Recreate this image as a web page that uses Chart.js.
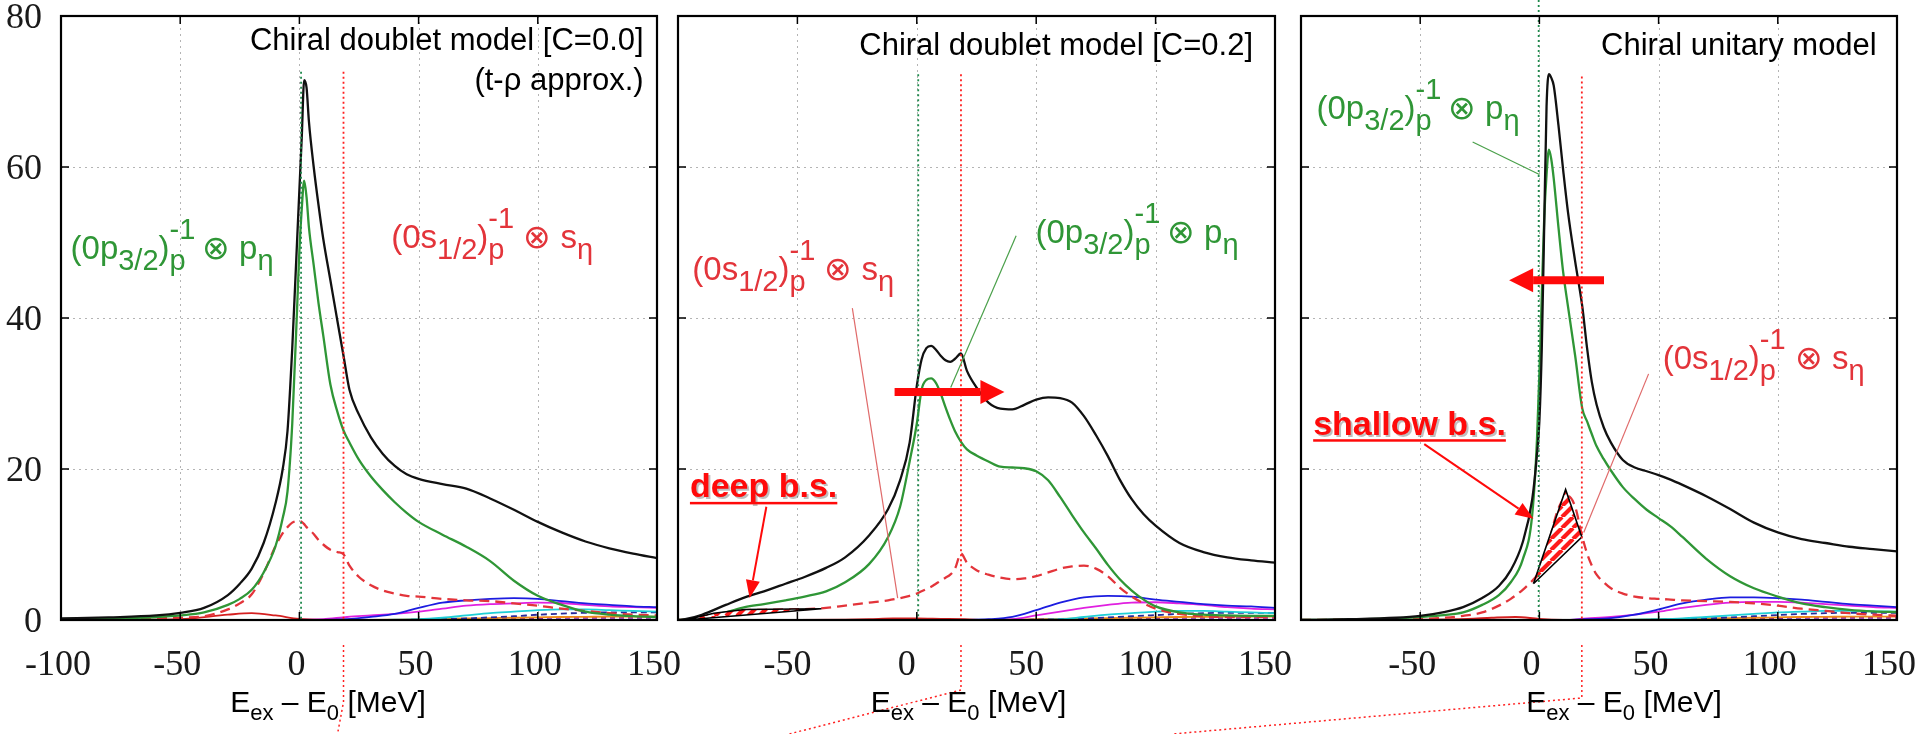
<!DOCTYPE html>
<html><head><meta charset="utf-8">
<script src="https://cdn.jsdelivr.net/npm/chart.js@4.4.1/dist/chart.umd.min.js"></script>
<style>
html,body{margin:0;padding:0;background:#fff;overflow:hidden}
#wrap{position:relative;width:1915px;height:734px;background:#fff}
canvas{position:absolute;left:0;top:0}
</style></head>
<body><div id="wrap">
<canvas id="c1" width="1915" height="734"></canvas>
<canvas id="c2" width="1915" height="734"></canvas>
<canvas id="c3" width="1915" height="734"></canvas>
</div>
<script>
// ---------------- DATA ----------------
const xTicks = [-100, -50, 0, 50, 100, 150];
const yTicks = [0, 20, 40, 60, 80];
const panelTitles = ['Chiral doublet model [C=0.0]', 'Chiral doublet model [C=0.2]', 'Chiral unitary model'];
const thrGreen = [0.7, 0.6, -0.3];
const thrRed = [18.5, 18.5, 17.8];

const p1X = [-100,-80,-60,-50,-40,-30,-25,-20,-15,-10,-7,-5,-3,-1,0,1,2,3,4,6,8,10,13,16,18.5,21,25,30,35,40,45,50,60,70,80,90,100,110,120,130,140,150];
const p1Total = [0.2,0.35,0.6,0.95,1.6,3.3,4.8,6.8,10.2,15.5,20,25,36,50,57,64,71.5,70.5,66,60,55,50.5,45,39.5,35,30.5,27.2,24.2,22,20.4,19.3,18.7,18,17.4,16.1,14.6,13,11.6,10.4,9.5,8.8,8.2];
const p1P32 = [0.1,0.2,0.4,0.6,1.0,2.0,2.8,4.0,6.3,9.8,13.5,17,26,41,49,54.5,58.2,56,52,47,42,37.7,31.2,27.5,25.1,23.5,21.2,19,17.2,15.6,14.2,13,11.3,9.7,7.8,5.2,3.2,2.0,1.1,0.7,0.5,0.4];
const p1S12 = [0.05,0.1,0.2,0.3,0.5,1.4,2.2,3.4,6.2,9.8,11.5,12.3,12.9,13.1,13.1,13,12.7,12.3,12,11.4,10.6,10,9.3,9,8.7,7.2,5.7,4.6,3.9,3.5,3.2,3.1,2.8,2.6,2.5,2.2,1.9,1.5,1.2,0.9,0.7,0.6];

const p2X = [-100,-97,-90,-80,-72,-64,-55,-47,-38,-30,-20,-12,-7,-3,0,2,4,6,8,10,12,14,16,18.5,21,25,30,35,40,45,50,55,60,65,70,75,80,85,90,95,100,110,120,130,140,150];
const p2Total = [0,0.1,0.7,2.0,3.0,3.8,4.8,5.7,6.9,8.3,11.2,14.7,18.5,23.5,31,34.5,36,36.3,35.8,35,34.4,34.2,34.6,35.3,33,30.8,28.8,28,27.9,28.5,29.2,29.5,29.4,28.8,27,24.5,21.7,18.6,16,14,12.5,10.2,9,8.3,7.9,7.6];
const p2P32 = [0,0.05,0.4,1.0,1.7,2.1,2.6,3.1,3.8,5.0,7.4,11,15,21,26,30.5,31.8,32,31.4,30,28.2,26.5,25,23.6,22.6,21.8,21,20.3,20.2,20.1,19.7,18.5,16.3,13.9,11.6,9.5,7.3,5.4,3.9,2.7,1.8,1.0,0.7,0.6,0.55,0.55];
const p2S12 = [0,0,0.4,1.0,1.3,1.35,1.4,1.45,1.6,1.9,2.3,2.6,2.9,3.2,3.5,3.8,4.1,4.4,4.8,5.2,5.6,6.0,6.8,8.8,7.6,6.6,6.0,5.6,5.4,5.5,5.8,6.3,6.8,7.1,7.2,6.8,5.8,4.3,3.1,2.2,1.5,0.8,0.5,0.4,0.4,0.4];

const p3X = [-100,-80,-60,-50,-40,-32,-24,-17,-12,-7,-3,-1,0,1,2,3,4,5,6,8,10,12,15,18,20,22,24,27,30,35,40,45,50,55,60,70,80,90,100,110,120,130,140,150];
const p3Total = [0,0.1,0.3,0.55,1.05,1.7,2.9,4.5,6.6,10.3,16,22,26.4,36,52,68,72.3,71.8,70.8,65.5,59.5,54,47.5,41.5,36,31.5,28.5,25.5,23.5,21.2,20.2,19.7,19.2,18.6,17.9,16.4,14.7,12.9,11.6,10.7,10.2,9.7,9.4,9.1];
const p3P32 = [0,0.05,0.2,0.4,0.65,1.0,2.0,3.3,5,8,14,24,32.6,43,53,59,62.3,61,58.5,52,46,41.5,35,28,26.3,24.6,23,21.3,19.8,17.6,16,14.6,13.5,12.4,11,8.1,5.8,4.2,3.1,2.2,1.7,1.35,1.15,1.05];
const p3S12 = [0,0.05,0.1,0.15,0.3,0.55,1.0,1.9,2.8,4.0,5.2,5.9,6.3,7,8,9,10.2,11.5,12.8,14.8,16,16.4,15,11,8.8,7.2,6.0,5.0,4.2,3.5,3.1,2.9,2.8,2.7,2.6,2.5,2.4,2.2,1.9,1.5,1.2,0.9,0.7,0.56];

const tailX = [-100,-50,-30,-20,-10,0,10,20,30,40,50,60,70,80,90,100,110,120,130,140,150];
const p1Blue   = [0,0,0,0,0,0,0,0.1,0.4,0.8,1.6,2.3,2.6,2.8,2.9,2.8,2.5,2.2,2.0,1.8,1.7];
const p1Mag    = [0,0,0,0,0,0,0.1,0.4,0.6,0.8,1.1,1.5,1.9,2.1,2.2,2.3,2.25,2.0,1.8,1.7,1.6];
const p1Cyan   = [0,0,0,0,0,0,0,0,0,0.05,0.1,0.3,0.6,0.9,1.1,1.3,1.4,1.4,1.3,1.2,1.1];
const p1Navy   = [0,0,0,0,0,0,0,0,0,0,0.05,0.1,0.2,0.35,0.5,0.7,0.85,0.95,1.0,1.0,1.0];
const p1Orange = [0,0,0,0,0,0,0,0,0.02,0.05,0.1,0.15,0.2,0.25,0.3,0.35,0.4,0.42,0.45,0.45,0.45];
const p1Purple = [0,0,0,0,0,0,0,0,0,0,0.02,0.05,0.1,0.15,0.2,0.25,0.3,0.3,0.3,0.3,0.3];
const p1RedS   = [0,0.1,0.7,0.9,0.6,0.15,0.02,0,0,0,0,0,0,0,0,0,0,0,0,0,0];

const p2Blue   = [0,0,0,0,0,0,0,0.02,0.1,0.4,1.3,2.3,3.0,3.2,3.1,2.7,2.4,2.1,1.9,1.8,1.6];
const p2Mag    = [0,0,0,0,0,0,0,0,0.02,0.1,0.6,1.1,1.6,2.0,2.3,2.35,2.2,2.0,1.7,1.5,1.4];
const p2Cyan   = [0,0,0,0,0,0,0,0,0,0,0.02,0.1,0.4,0.7,0.9,1.1,1.2,1.2,1.1,1.0,0.9];
const p2Navy   = [0,0,0,0,0,0,0,0,0,0,0.05,0.1,0.2,0.35,0.5,0.65,0.8,0.9,0.95,0.95,0.95];
const p2Orange = [0,0,0,0,0,0,0,0,0.02,0.05,0.1,0.15,0.2,0.25,0.3,0.35,0.4,0.42,0.45,0.45,0.45];
const p2Purple = [0,0,0,0,0,0,0,0,0,0,0.02,0.05,0.1,0.15,0.2,0.25,0.3,0.3,0.3,0.3,0.3];
const p2RedS   = [0,0,0.05,0.1,0.2,0.2,0.15,0.1,0,0,0,0,0,0,0,0,0,0,0,0,0];

const p3Blue   = [0,0,0,0,0,0,0,0.1,0.25,0.7,1.4,2.2,2.7,3.0,3.0,2.9,2.7,2.4,2.1,1.9,1.7];
const p3Mag    = [0,0,0,0,0,0,0,0.2,0.4,0.7,1.1,1.6,2.0,2.3,2.4,2.4,2.3,2.1,1.9,1.7,1.6];
const p3Cyan   = [0,0,0,0,0,0,0,0,0,0.05,0.1,0.2,0.4,0.6,0.8,1.0,1.1,1.2,1.2,1.15,1.1];
const p3Navy   = [0,0,0,0,0,0,0,0,0,0,0.05,0.1,0.2,0.35,0.5,0.65,0.8,0.9,0.95,0.95,0.95];
const p3Orange = [0,0,0,0,0,0,0,0,0.02,0.05,0.1,0.15,0.2,0.25,0.3,0.35,0.4,0.42,0.45,0.45,0.45];
const p3Purple = [0,0,0,0,0,0,0,0,0,0,0.02,0.05,0.1,0.15,0.2,0.25,0.3,0.3,0.3,0.3,0.3];
const p3RedS   = [0,0.05,0.15,0.3,0.4,0.15,0.02,0,0,0,0,0,0,0,0,0,0,0,0,0,0];

// hatched bound-state regions (closed outlines)
const hatch2X = [-97,-85,-72,-40,-97];
const hatch2Y = [0,0.9,1.4,1.5,0];
const hatch3X = [-2.5,11,17.8,-2.5];
const hatch3Y = [4.8,17.3,11,4.8];

// ---------------- STYLE / HELPERS ----------------
const C_BLACK='#111', C_GREEN='#2f9636', C_RED='#e3343a', C_BLUE='#1c1ce0', C_MAG='#e020e0', C_CYAN='#1fcfd6',
      C_NAVY='#2a2a9a', C_ORANGE='#f08a1a', C_PURPLE='#8a1aa8', C_REDS='#d42020', C_ARROW='#ff0a0a';
const SANS='"Liberation Sans", Arial, sans-serif';
const TICKFONT='36px "Liberation Serif", "Times New Roman", Times, serif';

function pts(xs, ys){ return xs.map((x,i)=>({x:x, y:ys[i]})); }
function ln(xs, ys, color, w, dash){ return {data:pts(xs,ys), borderColor:color, borderWidth:w, borderDash:dash||[], pointRadius:0, fill:false, cubicInterpolationMode:'monotone'}; }
function makeHatch(){
  const c=document.createElement('canvas'); c.width=c.height=11;
  const g=c.getContext('2d'); g.fillStyle='#fff'; g.fillRect(0,0,11,11);
  g.strokeStyle='#ff1a1a'; g.lineWidth=4.2; g.beginPath();
  for(const o of [-11,0,11]){ g.moveTo(o,11); g.lineTo(o+11,0); }
  g.stroke(); return g.createPattern(c,'repeat');
}
const HATCH = makeHatch();
function hatchDs(xs, ys){ return {data:pts(xs,ys), borderColor:'#000', borderWidth:1.6, pointRadius:0, tension:0, fill:'shape', backgroundColor:HATCH}; }

const lab0p = [{t:'(0p',k:'n'},{t:'3/2',k:'sub'},{t:')',k:'n'},{t:['p','-1'],k:'ss'},{t:'\u2009\u2297 p',k:'n'},{t:'\u03b7',k:'sub'}];
const lab0s = [{t:'(0s',k:'n'},{t:'1/2',k:'sub'},{t:')',k:'n'},{t:['p','-1'],k:'ss'},{t:' \u2297 s',k:'n'},{t:'\u03b7',k:'sub'}];
const labAxis = [{t:'E',k:'n'},{t:'ex',k:'sub'},{t:' \u2013 E',k:'n'},{t:'0',k:'sub'},{t:' [MeV]',k:'n'}];

function fnt(sz,bold){ return (bold?'bold ':'')+sz+'px '+SANS; }
function segWidth(ctx, segs, base, sub){
  let w=0;
  for(const s of segs){
    if(s.k==='ss'){ ctx.font=fnt(sub); w+=Math.max(ctx.measureText(s.t[0]).width, ctx.measureText(s.t[1]).width); }
    else { ctx.font=fnt(s.k==='n'?base:sub); w+=ctx.measureText(s.t).width; }
  }
  return w;
}
function drawSegs(ctx, x, y, segs, base, sub, color, align, dSub, dSup){
  const w=segWidth(ctx,segs,base,sub);
  let cx = align==='right'? x-w : (align==='center'? x-w/2 : x);
  ctx.fillStyle=color; ctx.textAlign='left'; ctx.textBaseline='alphabetic';
  for(const s of segs){
    if(s.k==='ss'){
      ctx.font=fnt(sub); ctx.fillText(s.t[0],cx,y+dSub); ctx.fillText(s.t[1],cx,y+dSup);
      cx+=Math.max(ctx.measureText(s.t[0]).width, ctx.measureText(s.t[1]).width);
    } else {
      ctx.font=fnt(s.k==='n'?base:sub);
      const dy = s.k==='sub'?dSub:(s.k==='sup'?dSup:0);
      ctx.fillText(s.t,cx,y+dy); cx+=ctx.measureText(s.t).width;
    }
  }
}
function arrow(ctx,x1,y1,x2,y2,w,hl,hw,color){
  const a=Math.atan2(y2-y1,x2-x1), bx=x2-hl*Math.cos(a), by=y2-hl*Math.sin(a);
  ctx.save(); ctx.strokeStyle=color; ctx.fillStyle=color; ctx.lineWidth=w; ctx.setLineDash([]);
  ctx.beginPath(); ctx.moveTo(x1,y1); ctx.lineTo(bx,by); ctx.stroke();
  ctx.beginPath(); ctx.moveTo(x2,y2);
  ctx.lineTo(bx+hw/2*Math.sin(a), by-hw/2*Math.cos(a));
  ctx.lineTo(bx-hw/2*Math.sin(a), by+hw/2*Math.cos(a)); ctx.closePath(); ctx.fill();
  ctx.restore();
}

// ---------------- PANELS ----------------
const panels = [
 { id:'c1', left:0, yw:61, right:1258, showY:true, hideFirst:false, lblOff:-3, titleDx:-31,
   datasets:[ ln(p1X,p1Total,C_BLACK,2.3), ln(p1X,p1P32,C_GREEN,2.3), ln(p1X,p1S12,C_RED,2.3,[10,6]),
     ln(tailX,p1Blue,C_BLUE,1.8), ln(tailX,p1Mag,C_MAG,1.8), ln(tailX,p1Cyan,C_CYAN,1.8), ln(tailX,p1Navy,C_NAVY,1.8,[6,4]),
     ln(tailX,p1Orange,C_ORANGE,1.8), ln(tailX,p1Purple,C_PURPLE,1.8,[5,4]), ln(tailX,p1RedS,C_REDS,1.8) ],
   vTop:72.6, greenToTop:false,
   titles:[{t:panelTitles[0],x:144.4,y:76.6},{t:'(t-\u03c1 approx.)',x:144.4,y:71.3}],
   labels:[{segs:lab0p,x:-96,y:47.8,c:C_GREEN},{segs:lab0s,x:38.5,y:49.3,c:C_RED}],
   pointers:[], bigArrow:null, bs:null,
   conn:{top:645, bend:702, dx:-6, end:734} },
 { id:'c2', left:678, yw:0, right:640, showY:false, hideFirst:true, lblOff:-10, titleDx:-8,
   datasets:[ hatchDs(hatch2X,hatch2Y), ln(p2X,p2Total,C_BLACK,2.3), ln(p2X,p2P32,C_GREEN,2.3), ln(p2X,p2S12,C_RED,2.3,[10,6]),
     ln(tailX,p2Blue,C_BLUE,1.8), ln(tailX,p2Mag,C_MAG,1.8), ln(tailX,p2Cyan,C_CYAN,1.8), ln(tailX,p2Navy,C_NAVY,1.8,[6,4]),
     ln(tailX,p2Orange,C_ORANGE,1.8), ln(tailX,p2Purple,C_PURPLE,1.8,[5,4]), ln(tailX,p2RedS,C_REDS,1.8) ],
   vTop:72.3, greenToTop:false,
   titles:[{t:panelTitles[1],x:140.8,y:76}],
   labels:[{segs:lab0s,x:-94,y:45,c:C_RED},{segs:lab0p,x:49.7,y:50,c:C_GREEN}],
   pointers:[{x1:-27,y1:41.3,x2:-8,y2:2.9,c:'#e06a6a'},{x1:41.6,y1:50.9,x2:14.2,y2:30.8,c:'#4aa04a'}],
   bigArrow:{x1:-9.3,x2:36.7,y:30.2},
   bs:{t:'deep b.s.',x:-95,y:17.5,ax1:-63,ay1:15,ax2:-70,ay2:2.9},
   conn:{top:645, bend:690, dx:-172, end:734} },
 { id:'c3', left:1301, yw:0, right:18, showY:false, hideFirst:true, lblOff:-8, titleDx:25,
   datasets:[ hatchDs(hatch3X,hatch3Y), ln(p3X,p3Total,C_BLACK,2.3), ln(p3X,p3P32,C_GREEN,2.3), ln(p3X,p3S12,C_RED,2.3,[10,6]),
     ln(tailX,p3Blue,C_BLUE,1.8), ln(tailX,p3Mag,C_MAG,1.8), ln(tailX,p3Cyan,C_CYAN,1.8), ln(tailX,p3Navy,C_NAVY,1.8,[6,4]),
     ln(tailX,p3Orange,C_ORANGE,1.8), ln(tailX,p3Purple,C_PURPLE,1.8,[5,4]), ln(tailX,p3RedS,C_REDS,1.8) ],
   vTop:72, greenToTop:true,
   titles:[{t:panelTitles[2],x:141.5,y:76}],
   labels:[{segs:lab0p,x:-93.5,y:66.4,c:C_GREEN},{segs:lab0s,x:51.7,y:33.2,c:C_RED}],
   pointers:[{x1:-28,y1:63.3,x2:0,y2:59,c:'#4aa04a'},{x1:45.8,y1:32.6,x2:18.6,y2:11.6,c:'#e06a6a'}],
   bigArrow:{x1:27.1,x2:-12.7,y:45},
   bs:{t:'shallow b.s.',x:-94.9,y:25.8,ax1:-48.3,ay1:23.3,ax2:-2.5,ay2:13.4},
   conn:{top:645, bend:698, dx:-409, end:734} }
];

panels.forEach((P, idx)=>{
  const plugin = {
    id:'decor'+idx,
    beforeDatasetsDraw(chart){
      const {ctx, chartArea:a, scales:{x,y}} = chart;
      ctx.save(); ctx.strokeStyle='#b4b4b4'; ctx.lineWidth=1; ctx.setLineDash([2,4]);
      for(const v of xTicks){ if(v<=-100||v>=150) continue; const px=Math.round(x.getPixelForValue(v))+0.5; ctx.beginPath(); ctx.moveTo(px,a.top); ctx.lineTo(px,a.bottom); ctx.stroke(); }
      for(const v of yTicks){ if(v<=0||v>=80) continue; const py=Math.round(y.getPixelForValue(v))+0.5; ctx.beginPath(); ctx.moveTo(a.left,py); ctx.lineTo(a.right,py); ctx.stroke(); }
      ctx.restore();
    },
    afterDatasetsDraw(chart){
      const {ctx, chartArea:a, scales:{x,y}} = chart;
      ctx.save(); ctx.lineWidth=1.8; ctx.setLineDash([2,3]);
      const gx=x.getPixelForValue(thrGreen[idx]);
      ctx.strokeStyle='#1f8a4c'; ctx.beginPath(); ctx.moveTo(gx, P.greenToTop?0:y.getPixelForValue(P.vTop)); ctx.lineTo(gx,a.bottom); ctx.stroke();
      const rx=x.getPixelForValue(thrRed[idx]);
      ctx.strokeStyle='#ff2020'; ctx.beginPath(); ctx.moveTo(rx, y.getPixelForValue(P.vTop)); ctx.lineTo(rx,a.bottom); ctx.stroke();
      ctx.lineWidth=1.5;
      ctx.beginPath(); ctx.moveTo(rx,P.conn.top); ctx.lineTo(rx,P.conn.bend); ctx.lineTo(rx+P.conn.dx,P.conn.end); ctx.stroke();
      ctx.restore();
    },
    afterDraw(chart){
      const {ctx, chartArea:a, scales:{x,y}} = chart;
      ctx.save();
      ctx.strokeStyle='#000'; ctx.lineWidth=2.2; ctx.setLineDash([]);
      ctx.strokeRect(a.left,a.top,a.right-a.left,a.bottom-a.top);
      ctx.lineWidth=1.5; ctx.beginPath();
      for(const v of xTicks){ const px=x.getPixelForValue(v); ctx.moveTo(px,a.bottom); ctx.lineTo(px,a.bottom-8); ctx.moveTo(px,a.top); ctx.lineTo(px,a.top+8); }
      for(const v of yTicks){ const py=y.getPixelForValue(v); ctx.moveTo(a.left,py); ctx.lineTo(a.left+8,py); ctx.moveTo(a.right,py); ctx.lineTo(a.right-8,py); }
      ctx.stroke();
      // tick labels (serif, like the original)
      ctx.fillStyle='#1a1a1a'; ctx.font=TICKFONT; ctx.textBaseline='alphabetic';
      ctx.textAlign='center';
      for(const v of xTicks){ if(P.hideFirst && v===-100) continue; ctx.fillText(String(v), x.getPixelForValue(v)+P.lblOff, 675); }
      if(P.showY){ ctx.textAlign='right'; for(const v of yTicks){ ctx.fillText(String(v), a.left-19, y.getPixelForValue(v)+12); } }
      // titles
      ctx.fillStyle='#000'; ctx.font=fnt(31); ctx.textAlign='right'; ctx.textBaseline='middle';
      for(const t of P.titles){ ctx.fillText(t.t, x.getPixelForValue(t.x), y.getPixelForValue(t.y)); }
      for(const p of P.pointers){ ctx.strokeStyle=p.c; ctx.lineWidth=1.2; ctx.beginPath(); ctx.moveTo(x.getPixelForValue(p.x1),y.getPixelForValue(p.y1)); ctx.lineTo(x.getPixelForValue(p.x2),y.getPixelForValue(p.y2)); ctx.stroke(); }
      for(const l of P.labels){ drawSegs(ctx, x.getPixelForValue(l.x), y.getPixelForValue(l.y), l.segs, 33, 29, l.c, 'left', 11, -20); }
      if(P.bigArrow){ const b=P.bigArrow, py=y.getPixelForValue(b.y); arrow(ctx, x.getPixelForValue(b.x1), py, x.getPixelForValue(b.x2), py, 8, 24, 24, C_ARROW); }
      if(P.bs){
        const b=P.bs, tx=x.getPixelForValue(b.x), ty=y.getPixelForValue(b.y);
        ctx.font=fnt(34,true); ctx.textAlign='left'; ctx.textBaseline='middle';
        ctx.fillStyle='rgba(0,0,0,0.25)'; ctx.fillText(b.t,tx+2,ty+2);
        ctx.fillStyle=C_ARROW; ctx.fillText(b.t,tx,ty);
        const w=ctx.measureText(b.t).width; ctx.fillRect(tx,ty+14,w,2.5);
        arrow(ctx, x.getPixelForValue(b.ax1), y.getPixelForValue(b.ay1), x.getPixelForValue(b.ax2), y.getPixelForValue(b.ay2), 2, 18, 14, C_ARROW);
      }
      drawSegs(ctx, (a.left+a.right)/2 + P.titleDx, 712, labAxis, 30, 22, '#000', 'center', 8, -14);
      ctx.restore();
    }
  };
  new Chart(document.getElementById(P.id), {
    type:'line',
    data:{ datasets:P.datasets },
    options:{
      responsive:false, animation:false, devicePixelRatio:1, events:[],
      layout:{ padding:{ left:P.left, right:P.right, top:16, bottom:0 } },
      plugins:{ legend:{display:false}, tooltip:{enabled:false} },
      scales:{
        x:{ type:'linear', min:-100, max:150,
            grid:{display:false, drawTicks:false}, border:{display:false},
            afterBuildTicks:(s)=>{ s.ticks = xTicks.map(v=>({value:v})); },
            afterFit:(s)=>{ s.height=114; s.paddingLeft=0; s.paddingRight=0; },
            ticks:{ display:false } },
        y:{ type:'linear', min:0, max:80,
            grid:{display:false, drawTicks:false}, border:{display:false},
            afterBuildTicks:(s)=>{ s.ticks = yTicks.map(v=>({value:v})); },
            afterFit:(s)=>{ s.width=P.yw; s.paddingTop=0; s.paddingBottom=0; },
            ticks:{ display:false } }
      }
    },
    plugins:[plugin]
  });
});
</script>
</body></html>
